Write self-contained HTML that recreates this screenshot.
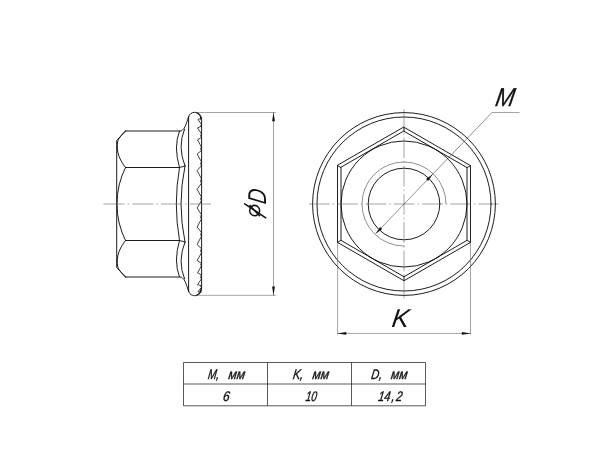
<!DOCTYPE html>
<html lang="ru"><head><meta charset="utf-8"><title>Гайка с фланцем</title>
<style>html,body{margin:0;padding:0;background:#fff}svg{display:block;will-change:transform}.t{font-family:"Liberation Sans",sans-serif;font-style:italic;fill:#111}.d{font-family:"DejaVu Sans","Liberation Sans",sans-serif;fill:#111}</style></head>
<body><svg width="600" height="450" viewBox="0 0 600 450">
<rect width="600" height="450" fill="#fff"/>
<path d="M125.5 131 L116.7 140.5 L116.7 267.5 L125.5 277 M125.5 131 L180 131 C184 131 186.5 124 188.6 116.5 M125.5 277 L180 277 C184 277 186.5 284.0 188.6 291.5 M125.5 167.5 L179.5 167.5 L185 166 M125.5 240.5 L179.5 240.5 L185 242 M125.5 131 C121 135.5 118.5 138.5 117.6 142 C116.7 148 117.0 157 125.5 167.5 M125.5 277 C121 272.5 118.5 269.5 117.6 266.0 C116.7 260.0 117.0 251.0 125.5 240.5 M125.5 167.5 A81.7 81.7 0 0 0 125.5 240.5 M179.5 131 Q173.30 146.75 179.5 167.5 M184.6 129 Q177.20 146.50 185 166 M179.5 167.5 Q173.10 204.00 179.5 240.5 M185 166 Q177.00 204.00 185 242 M179.5 277.0 Q173.30 261.25 179.5 240.5 M184.6 279.0 Q177.20 261.50 185 242.0 M188.6 290.5 L188.6 117.5 C188.9 114 192 112.3 194.8 112.3 C198.5 112.3 201.6 115.5 201.6 119.5 L201.6 288.5 C201.6 292.5 198.5 295.7 194.8 295.7 C192 295.7 188.9 294.0 188.6 290.5" stroke="#111" stroke-width="0.95" fill="none" stroke-linecap="round" stroke-linejoin="round"/>
<path d="M201.4 118.4 L198.0 119.4 L201.4 124.5 M201.4 126.3 L197.5 127.8 L201.4 133.8 M201.4 124.5 Q199.8 125.4 201.4 126.3 M201.4 137.5 L197.5 139.8 L201.4 147.0 M201.4 133.8 Q199.8 135.6 201.4 137.5 M201.4 150.6 L197.1 154 L201.4 161.8 M201.4 147.0 Q199.8 148.8 201.4 150.6 M201.4 165.8 L197.1 170.5 L201.4 178.7 M201.4 161.8 Q199.8 163.8 201.4 165.8 M201.4 183.3 L197.1 189.3 L201.4 196.9 M201.4 178.7 Q199.8 181.0 201.4 183.3 M201.4 200.9 L197.1 208 L201.4 214.7 M201.4 196.9 Q199.8 198.9 201.4 200.9 M201.4 219.1 L197.1 227 L201.4 232.4 M201.4 214.7 Q199.8 216.9 201.4 219.1 M201.4 236.4 L197.1 244.5 L201.4 248.6 M201.4 232.4 Q199.8 234.4 201.4 236.4 M201.4 253.0 L197.1 260.5 L201.4 263.3 M201.4 248.6 Q199.8 250.8 201.4 253.0 M201.4 266.0 L197.5 272.8 L201.4 274.8 M201.4 263.3 Q199.8 264.7 201.4 266.0 M201.4 279.0 L197.5 284.6 L201.4 285.8 M201.4 274.8 Q199.8 276.9 201.4 279.0 M201.4 287.3 L198.0 291.6 L201.4 292.4 M201.4 285.8 Q199.8 286.5 201.4 287.3" stroke="#111" stroke-width="0.8" fill="none" stroke-linejoin="round"/>
<path d="M196.5 112.8 C199 113.6 200.9 116 201.1 120 M196.5 295.2 C199 294.4 200.9 292.0 201.1 288.0" stroke="#111" stroke-width="1.1" fill="none"/>
<g stroke="#111" stroke-width="0.95" fill="none" stroke-linecap="round" stroke-linejoin="round"><circle cx="404.0" cy="204.0" r="91.4"/><circle cx="404.0" cy="204.0" r="87.0"/><circle cx="404.0" cy="204.0" r="63.0"/><circle cx="404.0" cy="204.0" r="35.8"/><polygon points="404.00,127.25 470.47,165.62 470.47,242.38 404.00,280.75 337.53,242.38 337.53,165.62"/><polygon points="404.00,131.25 467.00,167.62 467.00,240.38 404.00,276.75 341.00,240.38 341.00,167.62"/><path d="M404.00 127.25 L404.00 131.25 M470.47 165.62 L467.00 167.62 M470.47 242.38 L467.00 240.38 M404.00 280.75 L404.00 276.75 M337.53 242.38 L341.00 240.38 M337.53 165.62 L341.00 167.62"/></g>
<path d="M446.0 204.0 A42.0 42.0 0 1 0 404.3 246.0" stroke="#444" stroke-width="0.6" fill="none"/>
<path d="M103.4 204 H211.8" stroke="#666" stroke-width="0.6" fill="none" stroke-dasharray="21.2 3 1.6 3"/>
<path d="M309 204 H498.8 M404 109.2 V298.6" stroke="#666" stroke-width="0.6" fill="none" stroke-dasharray="20.8 2.9 1.6 2.95"/>
<path d="M197 112.5 H275.8 M197 295.3 H275.8 M273.5 112.5 V295.3" stroke="#666" stroke-width="0.6" fill="none"/>
<polygon points="273.50,112.30 274.90,121.20 272.10,121.20" fill="#111"/>
<polygon points="273.50,295.50 272.10,286.60 274.90,286.60" fill="#111"/>
<path d="M337.6 243 V334.8 M470.5 243 V334.8 M337.6 333.4 H470.5" stroke="#666" stroke-width="0.6" fill="none"/>
<polygon points="337.40,333.40 346.30,332.00 346.30,334.80" fill="#111"/>
<polygon points="470.70,333.40 461.80,334.80 461.80,332.00" fill="#111"/>
<path d="M375.6 233.7 L492 112.5" stroke="#444" stroke-width="0.6" fill="none"/><path d="M492 112.5 H519.5" stroke="#666" stroke-width="0.6" fill="none"/>
<polygon points="375.60,233.70 380.13,226.96 382.15,228.90" fill="#111"/>
<polygon points="432.61,174.21 428.08,180.95 426.06,179.01" fill="#111"/>
<path d="M183.5 362.5 H425.5 V405.8 H183.5 Z M183.5 384 H425.5 M267.5 362.5 V405.8 M351.5 362.5 V405.8" stroke="#111" stroke-width="0.7" fill="none"/>
<text transform="translate(494.5 106.4) skewX(-10) scale(0.88 1)" font-size="25.8" stroke="#111" stroke-width="0.3" class="t" >M</text>
<text transform="translate(391 326.7) skewX(-8) scale(1.0 1)" font-size="25.8"  class="t" >K</text>
<g transform="translate(266 219) rotate(-90)"><text transform="translate(1.6 -5.9) scale(1.06 1)" font-size="21.6" class="d">⌀</text><path d="M1.2 -0.3 L15.2 -21.3" stroke="#111" stroke-width="1.55" stroke-linecap="round"/><text transform="translate(14.2 0) skewX(-8) scale(0.8 1)" font-size="25.8"  class="t" >D</text></g>
<text transform="translate(207.4 378.8) skewX(-8) scale(0.75 1)" font-size="13.8" stroke="#111" stroke-width="0.35" class="t" >M,</text>
<text transform="translate(228 378.8) skewX(-8) scale(0.88 1)" font-size="13.8" stroke="#111" stroke-width="0.35" class="t" >мм</text>
<text transform="translate(292.4 378.8) skewX(-8) scale(0.8 1)" font-size="13.8" stroke="#111" stroke-width="0.35" class="t" >K,</text>
<text transform="translate(312 378.8) skewX(-8) scale(0.88 1)" font-size="13.8" stroke="#111" stroke-width="0.35" class="t" >мм</text>
<text transform="translate(370.8 378.8) skewX(-8) scale(0.8 1)" font-size="13.8" stroke="#111" stroke-width="0.35" class="t" >D,</text>
<text transform="translate(390.5 378.8) skewX(-8) scale(0.88 1)" font-size="13.8" stroke="#111" stroke-width="0.35" class="t" >мм</text>
<text transform="translate(222.5 400.6) skewX(-8) scale(0.86 1)" font-size="13.8" stroke="#111" stroke-width="0.35" class="t" >6</text>
<text transform="translate(305.2 400.6) skewX(-8) scale(0.73 1)" font-size="13.8" stroke="#111" stroke-width="0.35" class="t" >10</text>
<text transform="translate(377.7 400.6) skewX(-8) scale(0.8 1)" font-size="13.8" stroke="#111" stroke-width="0.35" class="t" >14<tspan dx="1.6">,</tspan><tspan dx="1.8">2</tspan></text>
</svg></body></html>
